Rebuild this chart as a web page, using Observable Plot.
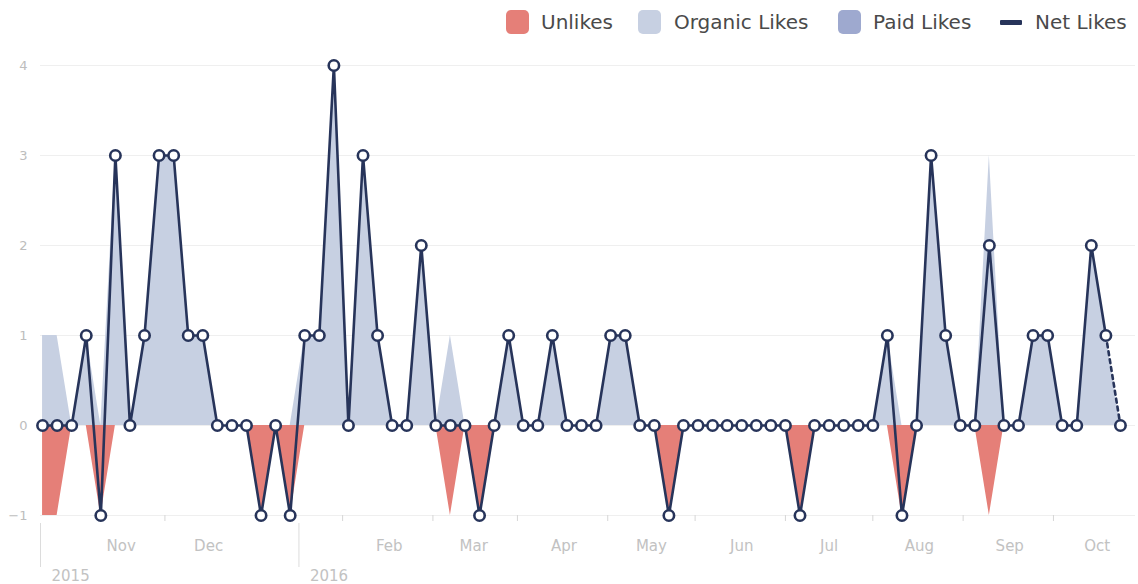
<!DOCTYPE html>
<html>
<head>
<meta charset="utf-8">
<script src="https://cdn.jsdelivr.net/npm/d3@7"></script>
<script src="https://cdn.jsdelivr.net/npm/@observablehq/plot@0.6"></script>
<style>
  html, body { margin: 0; padding: 0; background: #fff; }
  body { width: 1138px; height: 584px; overflow: hidden; font-family: "DejaVu Sans", sans-serif; }
  #legend { position: relative; height: 45px; }
  .sw { position: absolute; top: 10px; width: 23px; height: 24px; border-radius: 5px; }
  .dash { position: absolute; top: 20px; width: 22px; height: 5px; border-radius: 1px; }
  .lab { position: absolute; top: 9px; font-size: 20px; line-height: 26px; color: #4a4a4a; white-space: nowrap; }
</style>
</head>
<body>
<div id="legend"></div>
<div id="chart"></div>
<script>
// ---- data ----
const dates = [
  "2015-10-05","2015-10-10","2015-10-15","2015-10-20","2015-10-25","2015-10-30",
  "2015-11-04","2015-11-09","2015-11-14","2015-11-19","2015-11-24","2015-11-29",
  "2015-12-04","2015-12-09","2015-12-14","2015-12-19","2015-12-24","2015-12-29",
  "2016-01-03","2016-01-08","2016-01-13","2016-01-18","2016-01-23","2016-01-28",
  "2016-02-02","2016-02-07","2016-02-12","2016-02-17","2016-02-22","2016-02-27",
  "2016-03-03","2016-03-08","2016-03-13","2016-03-18","2016-03-23","2016-03-28",
  "2016-04-02","2016-04-07","2016-04-12","2016-04-17","2016-04-22","2016-04-27",
  "2016-05-02","2016-05-07","2016-05-12","2016-05-17","2016-05-22","2016-05-27",
  "2016-06-01","2016-06-06","2016-06-11","2016-06-16","2016-06-21","2016-06-26",
  "2016-07-01","2016-07-06","2016-07-11","2016-07-16","2016-07-21","2016-07-26","2016-07-31",
  "2016-08-05","2016-08-10","2016-08-15","2016-08-20","2016-08-25","2016-08-30",
  "2016-09-04","2016-09-09","2016-09-14","2016-09-19","2016-09-24","2016-09-29",
  "2016-10-04","2016-10-09"
];
const organicLikes = [
  1,1,0,1,0,3, 0,1,3,3,1,1, 0,0,0,0,0,0, 1,1,4,0,3,1, 0,0,2,0,1,0,
  0,0,1,0,0,1, 0,0,0,1,1,0, 0,0,0,0,0,0, 0,0,0,0,0,0, 0,0,0,0,1,0,0,
  3,1,0,0,3,0, 0,1,1,0,0,2, 1,0
];
const paidLikes = [
  0,0,0,0,0,0, 0,0,0,0,0,0, 0,0,0,0,0,0, 0,0,0,0,0,0, 0,0,0,0,0,0,
  0,0,0,0,0,0, 0,0,0,0,0,0, 0,0,0,0,0,0, 0,0,0,0,0,0, 0,0,0,0,0,0,0,
  0,0,0,0,0,0, 0,0,0,0,0,0, 0,0
];
const unlikes = [
  1,1,0,0,1,0, 0,0,0,0,0,0, 0,0,0,1,0,1, 0,0,0,0,0,0, 0,0,0,0,1,0,
  1,0,0,0,0,0, 0,0,0,0,0,0, 0,1,0,0,0,0, 0,0,0,0,1,0, 0,0,0,0,0,1,0,
  0,0,0,0,1,0, 0,0,0,0,0,0, 0,0
];
const netLikes = [
  0,0,0,1,-1,3, 0,1,3,3,1,1, 0,0,0,-1,0,-1, 1,1,4,0,3,1, 0,0,2,0,0,0,
  -1,0,1,0,0,1, 0,0,0,1,1,0, 0,-1,0,0,0,0, 0,0,0,0,-1,0, 0,0,0,0,1,-1,0,
  3,1,0,0,2,0, 0,1,1,0,0,2, 1,0
];
const yTicks = [-1, 0, 1, 2, 3, 4];
const monthTicks = ["2015-11-01","2015-12-01","2016-02-01","2016-03-01","2016-04-01","2016-05-01",
                    "2016-06-01","2016-07-01","2016-08-01","2016-09-01","2016-10-01"];
const monthLabels = ["Nov","Dec","Feb","Mar","Apr","May","Jun","Jul","Aug","Sep","Oct"];
const midMonthTicks = ["2015-11-16","2016-01-16","2016-02-16","2016-03-16","2016-04-16","2016-05-16",
                       "2016-06-16","2016-07-16","2016-08-16","2016-09-16","2016-10-16"];
const yearTicks = ["2015-10-04T07:00Z","2016-01-01"];
const yearLabels = ["2015","2016"];
const xDomain = ["2015-10-04T07:00Z","2016-10-14T04:00Z"];

const legendItems = [
  {name: "Unlikes", color: "#e57f78", kind: "sw", markLeft: 506, textLeft: 541},
  {name: "Organic Likes", color: "#c7d0e2", kind: "sw", markLeft: 638, textLeft: 674},
  {name: "Paid Likes", color: "#9ea9cf", kind: "sw", markLeft: 838, textLeft: 873},
  {name: "Net Likes", color: "#27345a", kind: "dash", markLeft: 1000, textLeft: 1035}
];

// ---- build ----
const P = s => new Date(s);
const data = dates.map((d, i) => ({
  date: P(d), organic: organicLikes[i], paid: paidLikes[i],
  unlikes: unlikes[i], net: netLikes[i]
}));
const monthLabelMap = new Map(monthTicks.map((d, i) => [+P(d), monthLabels[i]]));
const yearLabelMap = new Map(yearTicks.map((d, i) => [+P(d), yearLabels[i]]));

const lg = document.getElementById("legend");
for (const it of legendItems) {
  const m = document.createElement("div");
  m.className = it.kind;
  m.style.left = it.markLeft + "px";
  m.style.background = it.color;
  lg.appendChild(m);
  const t = document.createElement("div");
  t.className = "lab";
  t.style.left = it.textLeft + "px";
  t.textContent = it.name;
  lg.appendChild(t);
}

const navy = "#27345a";
const chart = Plot.plot({
  width: 1138,
  height: 539,
  marginLeft: 40,
  marginRight: 3,
  marginTop: 20,
  marginBottom: 69,
  style: {fontFamily: "'DejaVu Sans', sans-serif", background: "#fff", overflow: "visible"},
  x: {type: "utc", domain: xDomain.map(P)},
  y: {domain: [-1, 4]},
  marks: [
    Plot.ruleY(yTicks, {stroke: "#efefef", strokeWidth: 1.2}),
    Plot.axisY({ticks: yTicks, tickSize: 0, tickPadding: 13, fill: "#bdbdbd", fontSize: 13, tickFormat: d3.format("d")}),
    Plot.axisX({ticks: midMonthTicks.map(P), tickSize: 6, tickFormat: () => "", stroke: "#d6d6d6"}),
    Plot.axisX({ticks: monthTicks.map(P), tickSize: 0, tickPadding: 25, fontSize: 15, fill: "#c2c2c2",
                tickFormat: d => monthLabelMap.get(+d)}),
    Plot.axisX({ticks: yearTicks.map(P), tickSize: 44, dy: 8, tickFormat: () => "", stroke: "#dcdcdc"}),
    Plot.axisX({ticks: yearTicks.map(P), tickSize: 0, tickPadding: 55, textAnchor: "start", dx: 11,
                fontSize: 15, fill: "#c2c2c2", tickFormat: d => yearLabelMap.get(+d)}),
    Plot.areaY(data, {x: "date", y: "organic", fill: "#c7d0e2"}),
    Plot.areaY(data, {x: "date", y1: "organic", y2: d => d.organic + d.paid, fill: "#9ea9cf"}),
    Plot.areaY(data, {x: "date", y: d => -d.unlikes, fill: "#e57f78"}),
    Plot.line(data.slice(0, data.length - 1), {x: "date", y: "net", stroke: navy, strokeWidth: 2.6}),
    Plot.line(data.slice(data.length - 2), {x: "date", y: "net", stroke: navy, strokeWidth: 2.6, strokeDasharray: "4,4"}),
    Plot.dot(data, {x: "date", y: "net", r: 5.2, fill: "white", stroke: navy, strokeWidth: 2.6})
  ]
});
document.getElementById("chart").appendChild(chart);
</script>
</body>
</html>
